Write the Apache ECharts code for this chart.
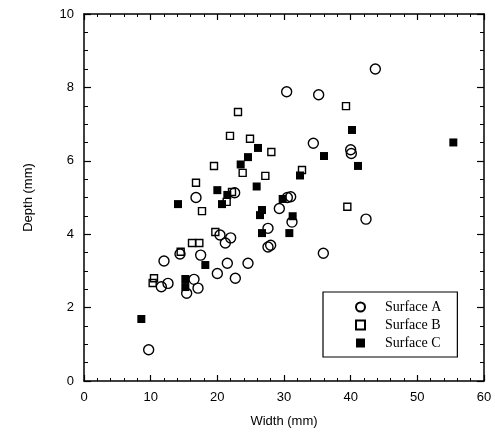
<!DOCTYPE html>
<html>
<head>
<meta charset="utf-8">
<script src="https://cdn.jsdelivr.net/npm/echarts@6/dist/echarts.min.js"></script>
<style>
  html, body { margin: 0; padding: 0; background: #fff; }
  #chart { width: 495px; height: 443px; }
</style>
</head>
<body>
<div id="chart"></div>
<script>
// [width, depth] in mm
const surfaceA = [
  [9.7, 0.85], [11.6, 2.57], [12.6, 2.66], [12.0, 3.27], [15.4, 2.39], [16.5, 2.77],
  [17.1, 2.53], [14.4, 3.46], [17.5, 3.43], [20.0, 2.93], [22.7, 2.8], [21.5, 3.21],
  [24.6, 3.21], [20.4, 3.98], [21.2, 3.76], [22.0, 3.9], [16.8, 5.0], [22.6, 5.13],
  [27.6, 4.16], [27.6, 3.65], [28.0, 3.7], [29.3, 4.7], [30.5, 5.0], [31.0, 5.02],
  [31.2, 4.33], [35.9, 3.48], [42.3, 4.41], [34.4, 6.48], [40.0, 6.3], [40.1, 6.2],
  [30.4, 7.88], [35.2, 7.8], [43.7, 8.5]
]
const surfaceB = [
  [10.5, 2.8], [10.3, 2.67], [14.5, 3.52], [16.2, 3.76], [17.3, 3.76], [19.7, 4.06],
  [17.7, 4.63], [21.4, 4.88], [16.8, 5.4], [19.5, 5.86], [21.9, 6.68], [23.1, 7.33],
  [24.9, 6.6], [23.8, 5.67], [27.2, 5.59], [28.1, 6.24], [22.2, 5.15], [32.7, 5.75],
  [39.3, 7.49], [39.5, 4.75]
]
const surfaceC = [
  [8.6, 1.69], [15.2, 2.78], [15.2, 2.56], [18.2, 3.16], [14.1, 4.82], [20.0, 5.2],
  [20.7, 4.82], [21.5, 5.07], [23.5, 5.9], [24.6, 6.1], [26.1, 6.35], [25.9, 5.3],
  [26.7, 4.66], [26.4, 4.52], [26.7, 4.03], [29.8, 4.96], [30.8, 4.03], [31.3, 4.49],
  [32.4, 5.6], [36.0, 6.13], [40.2, 6.84], [41.1, 5.86], [55.4, 6.5]
]

const xMin = 0, xMax = 60, xStep = 10
const yMin = 0, yMax = 10, yStep = 2

const chart = echarts.init(document.getElementById('chart'))

const sans = 'Liberation Sans, Arial, sans-serif'
const serif = 'Liberation Serif, Times New Roman, serif'
const frameLine = { show: true, onZero: false, lineStyle: { color: '#000', width: 1.5 } }

function xAx(pos, labels) {
  return {
    type: 'value', position: pos, min: xMin, max: xMax, interval: xStep,
    axisLine: frameLine,
    axisTick: { show: true, inside: true, length: 6, lineStyle: { color: '#000', width: 1.2 } },
    minorTick: { show: true, splitNumber: 5, length: 3, lineStyle: { color: '#000', width: 1 } },
    axisLabel: { show: labels, color: '#000', fontFamily: sans, fontSize: 13, margin: 10 },
    splitLine: { show: false },
    name: labels ? 'Width (mm)' : '',
    nameLocation: 'middle', nameGap: 34,
    nameTextStyle: { color: '#000', fontFamily: sans, fontSize: 13 }
  }
}

function yAx(pos, labels) {
  return {
    type: 'value', position: pos, min: yMin, max: yMax, interval: yStep,
    axisLine: frameLine,
    axisTick: { show: true, inside: true, length: 7, lineStyle: { color: '#000', width: 1.2 } },
    minorTick: { show: true, splitNumber: 4, length: 4, lineStyle: { color: '#000', width: 1 } },
    axisLabel: { show: labels, color: '#000', fontFamily: sans, fontSize: 13, margin: 10 },
    splitLine: { show: false },
    name: labels ? 'Depth (mm)' : '',
    nameLocation: 'middle', nameGap: 49,
    nameTextStyle: { color: '#000', fontFamily: sans, fontSize: 13 }
  }
}

const option = {
  animation: false,
  backgroundColor: '#fff',
  grid: { left: 84, right: 11, top: 14, bottom: 62, containLabel: false },
  xAxis: [xAx('bottom', true), xAx('top', false)],
  yAxis: [yAx('left', true), yAx('right', false)],
  legend: {
    orient: 'vertical',
    left: 323, top: 292,
    padding: [8, 16, 7, 32],
    itemGap: 4,
    itemWidth: 9, itemHeight: 9,
    borderColor: '#000', borderWidth: 1.2,
    backgroundColor: '#fff',
    textStyle: { color: '#000', fontFamily: serif, fontSize: 14, padding: [0, 0, 0, 15] },
    data: ['Surface A', 'Surface B', 'Surface C']
  },
  series: [
    {
      name: 'Surface A', type: 'scatter', data: surfaceA,
      symbol: 'circle', symbolSize: 10,
      itemStyle: { color: 'rgba(255,255,255,0)', borderColor: '#000', borderWidth: 1.4, opacity: 1 }
    },
    {
      name: 'Surface B', type: 'scatter', data: surfaceB,
      symbol: 'rect', symbolSize: 7,
      itemStyle: { color: 'rgba(255,255,255,0)', borderColor: '#000', borderWidth: 1.4, opacity: 1 }
    },
    {
      name: 'Surface C', type: 'scatter', data: surfaceC,
      symbol: 'rect', symbolSize: 8,
      itemStyle: { color: '#000', opacity: 1 }
    }
  ]
}

chart.setOption(option)
</script>
</body>
</html>
